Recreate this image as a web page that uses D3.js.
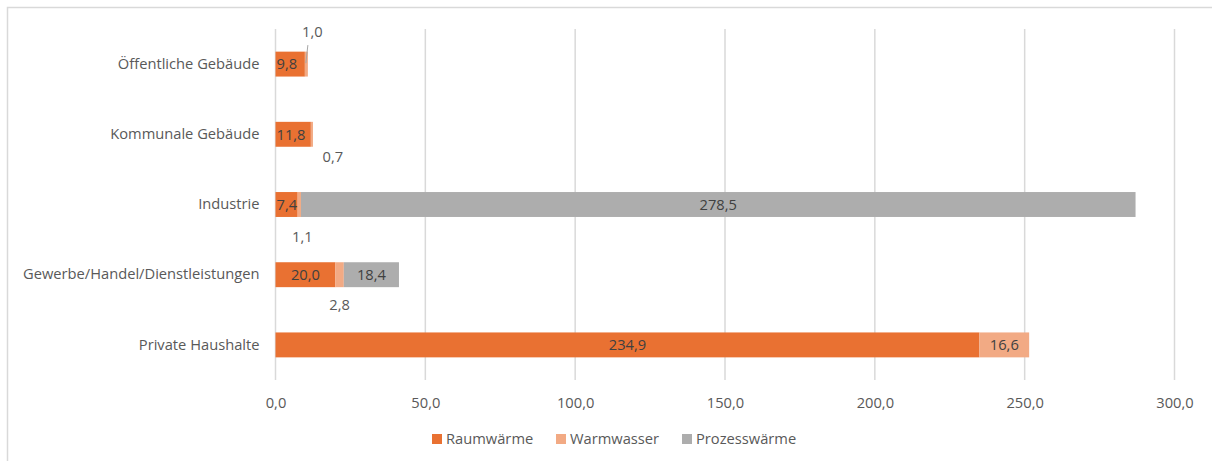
<!DOCTYPE html>
<html>
<head>
<meta charset="utf-8">
<script src="https://cdn.jsdelivr.net/npm/d3@7"></script>
<style>
  html, body { margin: 0; padding: 0; background: #fff; }
  svg { display: block; font-family: "Open Sans", "Noto Sans", sans-serif; }
</style>
</head>
<body>
<svg id="chart" width="1212" height="461"></svg>
<script>
// Wärmebedarf nach Sektor und Anwendung
const categories = [
  "Öffentliche Gebäude",
  "Kommunale Gebäude",
  "Industrie",
  "Gewerbe/Handel/Dienstleistungen",
  "Private Haushalte"
];
const seriesNames = ["Raumwärme", "Warmwasser", "Prozesswärme"];
const raumwaerme   = [9.8, 11.8, 7.4, 20.0, 234.9];
const warmwasser   = [1.0, 0.7, 1.1, 2.8, 16.6];
const prozesswaerme = [0, 0, 278.5, 18.4, 0];
const xTicks = [0, 50, 100, 150, 200, 250, 300];

const colors = ["#E97132", "#F2AA84", "#ADADAD"];
const textColor = "#595959";
const fontSize = 14.7;
const fmt = v => d3.format(".1f")(v).replace(".", ",");

// offsets (dx, dy from segment centre) for small labels placed outside their bar
const outsideOffsets = {
  "Öffentliche Gebäude": [6, -32],
  "Kommunale Gebäude": [21, 22],
  "Industrie": [3, 32],
  "Gewerbe/Handel/Dienstleistungen": [0, 30]
};

const svg = d3.select("#chart");

// outer chart frame
svg.append("rect")
  .attr("x", 7.5).attr("y", 7.5)
  .attr("width", 1260).attr("height", 500)
  .attr("fill", "none").attr("stroke", "#D9D9D9").attr("stroke-width", 1.5);

const plot = { left: 275.5, right: 1174.5, top: 29, bottom: 380 };

const x = d3.scaleLinear().domain([0, 300]).range([plot.left, plot.right]);
const y = d3.scaleBand().domain(categories)
  .range([plot.top, plot.bottom]).paddingInner(0.645).paddingOuter(0.3225);

// vertical gridlines
svg.append("g").selectAll("line").data(xTicks).join("line")
  .attr("x1", d => x(d)).attr("x2", d => x(d))
  .attr("y1", plot.top).attr("y2", plot.bottom)
  .attr("stroke", "#D9D9D9").attr("stroke-width", 1.5);

// x axis tick labels
const xAxis = d3.axisBottom(x).tickValues(xTicks).tickFormat(fmt).tickSize(0).tickPadding(0);
const gx = svg.append("g").attr("transform", `translate(0,${plot.bottom + 18})`).call(xAxis);
gx.select(".domain").remove();
gx.selectAll("text").attr("fill", textColor).attr("font-size", fontSize)
  .attr("font-family", "'Open Sans', sans-serif");

// category labels
const yAxis = d3.axisLeft(y).tickSize(0).tickPadding(0);
const gy = svg.append("g").attr("transform", `translate(${plot.left - 16},0)`).call(yAxis);
gy.select(".domain").remove();
gy.selectAll("text").attr("fill", textColor).attr("font-size", fontSize)
  .attr("font-family", "'Open Sans', sans-serif");

// stacked bars
const rows = categories.map((c, i) => ({
  cat: c,
  Raumwärme: raumwaerme[i],
  Warmwasser: warmwasser[i],
  Prozesswärme: prozesswaerme[i]
}));
const stacked = d3.stack().keys(seriesNames)(rows);

const layers = svg.append("g").selectAll("g").data(stacked).join("g")
  .attr("fill", (d, i) => colors[i]);
layers.selectAll("rect").data(d => d.filter(s => s[1] - s[0] > 0)).join("rect")
  .attr("x", d => x(d[0]))
  .attr("width", d => x(d[1]) - x(d[0]))
  .attr("y", d => y(d.data.cat))
  .attr("height", y.bandwidth());

// data labels
const labels = svg.append("g").attr("fill", "#404040").attr("font-size", fontSize)
  .attr("font-family", "'Open Sans', sans-serif");

stacked.forEach((layer, si) => {
  layer.forEach(seg => {
    const v = seg[1] - seg[0];
    if (v <= 0) return;
    const cy = y(seg.data.cat) + y.bandwidth() / 2;
    const cx = (x(seg[0]) + x(seg[1])) / 2;
    const off = outsideOffsets[seg.data.cat];
    if (seriesNames[si] === "Warmwasser" && v < 5 && off) {
      // small segments are labelled outside the bar
      labels.append("text").attr("x", cx + off[0]).attr("y", cy + off[1]).attr("dy", "0.36em")
        .attr("text-anchor", "middle").attr("fill", textColor).text(fmt(v));
      if (off[1] < 0) {
        // leader line from the label down into the segment
        svg.append("line")
          .attr("x1", cx + 1.5).attr("y1", cy - 19)
          .attr("x2", cx - 0.5).attr("y2", cy - 1)
          .attr("stroke", "#A6A6A6").attr("stroke-width", 1);
      }
      return;
    }
    const t = labels.append("text")
      .attr("y", cy).attr("dy", "0.36em")
      .text(fmt(v));
    if (v < 15) {
      t.attr("x", x(seg[0]) + 1).attr("text-anchor", "start");
    } else {
      t.attr("x", cx).attr("text-anchor", "middle");
    }
  });
});

// legend
const legendItems = [
  { name: "Raumwärme", x: 432 },
  { name: "Warmwasser", x: 556 },
  { name: "Prozesswärme", x: 682 }
];
const lg = svg.append("g").selectAll("g").data(legendItems).join("g")
  .attr("transform", d => `translate(${d.x},439)`);
lg.append("rect").attr("x", 0).attr("y", -5).attr("width", 10).attr("height", 10)
  .attr("fill", (d, i) => colors[i]);
lg.append("text").attr("x", 14).attr("dy", "0.36em")
  .attr("fill", textColor).attr("font-size", fontSize)
  .text(d => d.name);
</script>
</body>
</html>
